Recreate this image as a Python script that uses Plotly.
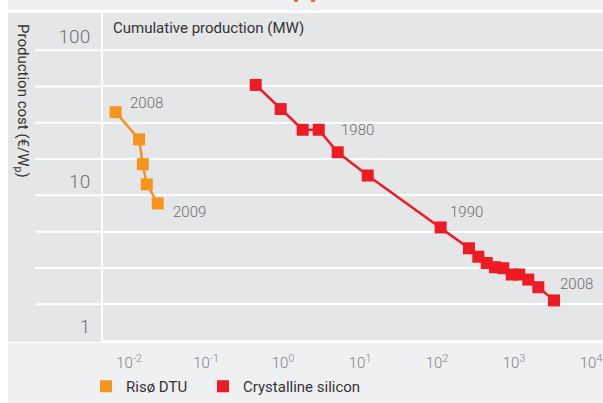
import numpy as np
import plotly.graph_objects as go

# ---- data ----
riso_mw = [0.0067, 0.0135, 0.0151, 0.0170, 0.0236]
riso_cost = [37.4, 24.3, 16.4, 11.9, 8.8]

si_mw = [0.442, 0.933, 1.80, 2.91, 5.13, 12.6, 111.7, 260, 344, 442, 566, 726,
         934, 1172, 1534, 2070, 3306]
si_cost = [57.6, 39.3, 28.3, 28.3, 19.8, 13.7, 6.01, 4.32, 3.78, 3.42, 3.20, 3.15,
           2.85, 2.85, 2.63, 2.33, 1.89]

# year labels: (series, point index, text)
year_labels = [("riso", 0, "2008"), ("riso", 4, "2009"), ("si", 3, "1980"),
               ("si", 6, "1990"), ("si", 16, "2008")]

x_tick_vals = [0.01, 0.1, 1, 10, 100, 1000, 10000]
x_tick_text = ["10<sup>-2</sup>", "10<sup>-1</sup>", "10<sup>0</sup>", "10<sup>1</sup>",
               "10<sup>2</sup>", "10<sup>3</sup>", "10<sup>4</sup>"]
y_tick_vals = [1, 10, 100]
y_tick_text = ["1", "10", "100"]
y_grid_vals = [10 ** (k / 4) for k in range(0, 9)]

ORANGE = "#f7941d"
RED = "#ed1c24"
PLOT_GRAY = "#e5e6e8"
LIGHT = "#eff0f2"
FONT = "Roboto"

fig = go.Figure()
fig.add_trace(go.Scatter(x=riso_mw, y=riso_cost, mode="lines+markers",
                         line=dict(color=ORANGE, width=2.5),
                         marker=dict(symbol="square", size=12, color=ORANGE),
                         showlegend=False))
fig.add_trace(go.Scatter(x=si_mw, y=si_cost, mode="lines+markers",
                         line=dict(color=RED, width=2.5),
                         marker=dict(symbol="square", size=12, color=RED),
                         showlegend=False))
# legend entries (squares only), each in its own legend box
fig.add_trace(go.Scatter(x=[None], y=[None], mode="markers", name="Risø DTU",
                         marker=dict(symbol="square", size=15, color=ORANGE),
                         legend="legend"))
fig.add_trace(go.Scatter(x=[None], y=[None], mode="markers", name="Crystalline silicon",
                         marker=dict(symbol="square", size=15, color=RED),
                         legend="legend2"))

# background panels (paper coords: plot spans px 103..603, 13..342)
def px_x(p):
    return (p - 103) / 500.0

def px_y(p):
    return (342 - p) / 329.0

shapes = [
    dict(type="rect", xref="paper", yref="paper", x0=px_x(8), x1=px_x(603),
         y0=px_y(0), y1=px_y(10), fillcolor=LIGHT, line=dict(width=0), layer="below"),
    dict(type="rect", xref="paper", yref="paper", x0=px_x(8), x1=px_x(603),
         y0=px_y(343), y1=px_y(403), fillcolor=LIGHT, line=dict(width=0), layer="below"),
    dict(type="rect", xref="paper", yref="paper", x0=px_x(8), x1=px_x(101),
         y0=px_y(13), y1=px_y(342), fillcolor=PLOT_GRAY, line=dict(width=0), layer="below"),
    dict(type="rect", xref="paper", yref="paper", x0=px_x(294), x1=px_x(298),
         y0=px_y(0), y1=px_y(2), fillcolor="#f26a2a", line=dict(width=0), layer="below"),
    dict(type="rect", xref="paper", yref="paper", x0=px_x(311), x1=px_x(315),
         y0=px_y(0), y1=px_y(2), fillcolor="#f26a2a", line=dict(width=0), layer="below"),
]
# grid lines extended into the label column
for v in y_grid_vals[1:]:
    shapes.append(dict(type="line", xref="paper", yref="y", x0=px_x(35), x1=0,
                       y0=v, y1=v, line=dict(color="white", width=2), layer="below"))

annotations = [
    dict(text="Cumulative production (MW)", xref="paper", yref="paper",
         x=px_x(111), y=px_y(28), xanchor="left", yanchor="middle", showarrow=False,
         font=dict(family=FONT, size=15, color="#333333")),
    dict(text="Production cost (€/W<sub>p</sub>)", xref="paper", yref="paper",
         x=px_x(22), y=px_y(101), xanchor="center", yanchor="middle", showarrow=False,
         textangle=90, font=dict(family=FONT, size=15, color="#333333")),
]
offsets = {0: (12, 9), 1: (13, -9), 2: (20, 0), 3: (7, 15), 4: (4, 16)}
for i, (series, idx, txt) in enumerate(year_labels):
    xs, ys = (riso_mw, riso_cost) if series == "riso" else (si_mw, si_cost)
    dx, dy = offsets[i]
    annotations.append(dict(text=txt, x=np.log10(xs[idx]), y=np.log10(ys[idx]),
                            xref="x", yref="y", xanchor="left", yanchor="middle",
                            xshift=dx, yshift=dy, showarrow=False,
                            font=dict(family=FONT, size=15, color="#6d6e71", weight=300)))

legend_common = dict(orientation="h", xanchor="left", yanchor="top",
                     bgcolor="rgba(0,0,0,0)",
                     font=dict(family=FONT, size=15, color="#333333"),
                     itemsizing="constant")

fig.update_layout(
    width=603, height=403,
    margin=dict(l=103, r=0, t=13, b=61, autoexpand=False),
    paper_bgcolor="white", plot_bgcolor=PLOT_GRAY,
    font=dict(family=FONT),
    shapes=shapes, annotations=annotations,
    showlegend=True,
    legend=dict(x=px_x(86), y=px_y(370), **legend_common),
    legend2=dict(x=px_x(203), y=px_y(370), **legend_common),
)
fig.update_xaxes(type="log", range=[-2.338, 4.156], tickvals=x_tick_vals,
                 ticktext=x_tick_text, showgrid=False, zeroline=False, automargin=False,
                 tickfont=dict(family=FONT, size=15, color="#808285", weight=300),
                 ticks="outside", ticklen=7, tickcolor="rgba(0,0,0,0)")
fig.update_yaxes(type="log", range=[-0.01, 2.256], tickvals=y_tick_vals,
                 ticktext=y_tick_text, showgrid=True, gridcolor="white", gridwidth=2,
                 minor=dict(tickvals=y_grid_vals, showgrid=True, gridcolor="white",
                            gridwidth=2),
                 zeroline=False, showline=True, linecolor="white", linewidth=2,
                 automargin=False,
                 tickfont=dict(family=FONT, size=19, color="#6d6e71", weight=300),
                 ticks="outside", ticklen=7, tickcolor="rgba(0,0,0,0)",
                 ticklabelshift=-14)

fig.write_html("out.html", config={"displayModeBar": False},
               post_script="document.body.style.margin='0';document.body.style.overflow='hidden';")
